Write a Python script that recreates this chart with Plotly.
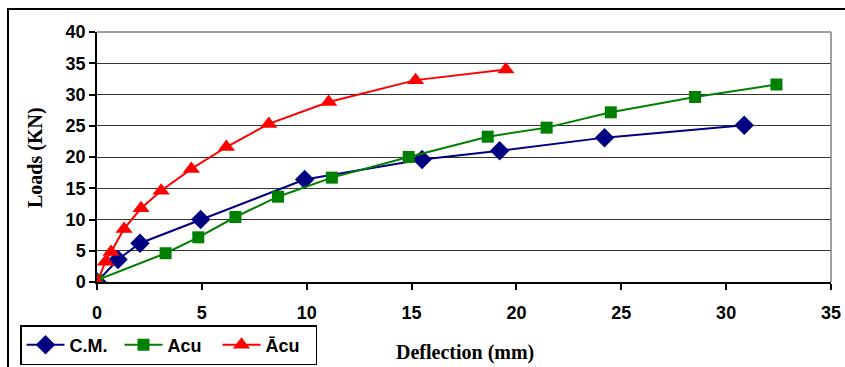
import plotly.graph_objects as go

# Load–deflection readings for the three specimens
cm_defl = [0, 1.0, 2.05, 4.94, 9.9, 15.5, 19.2, 24.2, 30.86]
cm_load = [0, 3.6, 6.2, 10.0, 16.4, 19.6, 21.0, 23.1, 25.1]

acu_defl = [0, 3.27, 4.83, 6.6, 8.63, 11.2, 14.86, 18.63, 21.44, 24.5, 28.52, 32.4]
acu_load = [0.3, 4.6, 7.15, 10.4, 13.65, 16.7, 20.0, 23.25, 24.7, 27.15, 29.6, 31.6]

acu2_defl = [0, 0.41, 0.67, 1.29, 2.1, 3.06, 4.5, 6.17, 8.19, 11.05, 15.19, 19.5]
acu2_load = [0, 3.25, 4.8, 8.5, 11.8, 14.6, 18.1, 21.6, 25.3, 28.8, 32.3, 34.0]

x_ticks = [0, 5, 10, 15, 20, 25, 30, 35]
y_ticks = [0, 5, 10, 15, 20, 25, 30, 35, 40]

fig = go.Figure()
fig.add_trace(go.Scatter(
    x=cm_defl, y=cm_load, name="C.M.", mode="lines+markers",
    line=dict(color="#000080", width=2),
    marker=dict(symbol="diamond", size=15, color="#000080"),
))
fig.add_trace(go.Scatter(
    x=acu_defl, y=acu_load, name="Acu", mode="lines+markers",
    line=dict(color="#008000", width=2),
    marker=dict(symbol="square", size=12, color="#008000"),
))
fig.add_trace(go.Scatter(
    x=acu2_defl, y=acu2_load, name="Ācu", mode="lines+markers",
    line=dict(color="#FF0000", width=2),
    marker=dict(symbol="triangle-up", size=15, color="#FF0000"),
))

tick_font = dict(family="Liberation Sans, Arial", size=18, color="black", weight="bold")
title_font = dict(family="Liberation Serif, Times New Roman", size=20, color="black", weight="bold")

fig.update_layout(
    width=845, height=367,
    margin=dict(l=97, r=14, t=32, b=85, autoexpand=False),
    paper_bgcolor="white", plot_bgcolor="white",
    showlegend=True,
    legend=dict(
        orientation="h", xref="container", yref="container",
        x=20 / 845, y=(367 - 345) / 367, xanchor="left", yanchor="middle",
        bordercolor="black", borderwidth=1.5, bgcolor="white",
        font=dict(family="Liberation Sans, Arial", size=18, color="black", weight="bold"),
        itemwidth=38, tracegroupgap=0, entrywidth=45,
    ),
    xaxis=dict(
        range=[0, 35], tickvals=x_ticks,
        showgrid=False, zeroline=False,
        showline=True, linecolor="black", linewidth=1.5, mirror=False,
        ticks="outside", ticklen=6, tickcolor="black", tickwidth=1.5,
        tickfont=tick_font, ticklabelstandoff=8,
    ),
    yaxis=dict(
        range=[0, 40], tickvals=y_ticks,
        showgrid=True, gridcolor="#333333", gridwidth=1.3, zeroline=False,
        showline=True, linecolor="black", linewidth=1.5,
        ticks="outside", ticklen=6, tickcolor="black", tickwidth=1.5,
        tickfont=tick_font,
    ),
    annotations=[
        dict(text="Deflection (mm)", xref="paper", yref="paper",
             x=(465 - 97) / 734, y=(282 - 352) / 250, xanchor="center", yanchor="middle",
             showarrow=False, font=title_font),
        dict(text="Loads (KN)", xref="paper", yref="paper", textangle=-90,
             x=(35 - 97) / 734, y=(282 - 158) / 250, xanchor="center", yanchor="middle",
             showarrow=False, font=title_font),
    ],
    shapes=[
        # gray frame on the top and right of the plotting area
        dict(type="line", xref="paper", yref="paper", x0=0, x1=1, y0=1, y1=1,
             line=dict(color="#808080", width=1.5)),
        dict(type="line", xref="paper", yref="paper", x0=1, x1=1, y0=0, y1=1,
             line=dict(color="#808080", width=1.5)),
        # outer chart border
        dict(type="rect", xref="paper", yref="paper",
             x0=(8 - 97) / 734, x1=1.05, y0=-0.4, y1=(282 - 9) / 250,
             line=dict(color="black", width=2), layer="below"),
    ],
)

fig.write_html("out.html")
